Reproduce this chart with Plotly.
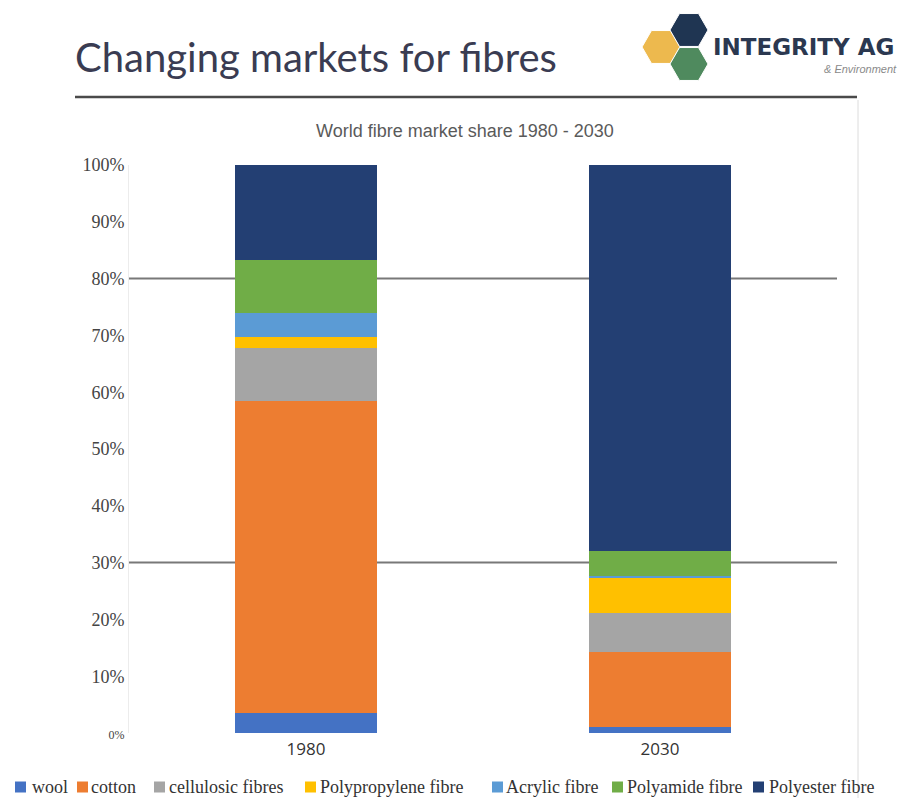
import math
import plotly.graph_objects as go

# ---------------- data ----------------
years = ["1980", "2030"]
fibres = ["wool", "cotton", "cellulosic fibres", "Polypropylene fibre",
          "Acrylic fibre", "Polyamide fibre", "Polyester fibre"]
wool = [0.035, 0.010]
cotton = [0.550, 0.132]
cellulosic = [0.093, 0.070]
polypropylene = [0.019, 0.062]
acrylic = [0.042, 0.003]
polyamide = [0.094, 0.044]
polyester = [0.167, 0.679]
series_values = [wool, cotton, cellulosic, polypropylene, acrylic, polyamide, polyester]
colors = ["#4472C4", "#ED7D31", "#A5A5A5", "#FFC000", "#5B9BD5", "#70AD47", "#233F73"]

ytick_vals = [i / 10 for i in range(11)]
ytick_text = ["<span style='font-size:12px'>0%</span>"] + [f"{i*10}%" for i in range(1, 11)]
ref_lines = [0.8, 0.3]

title_text = "Changing markets for fibres"
subtitle_text = "World fibre market share 1980 - 2030"

# ---------------- layout geometry (pixels) ----------------
W, H = 897, 798
L, R, T, B = 129, 60, 165, 65
PW, PH = W - L - R, H - T - B

# manual legend layout: square left edge, text left edge (pixels)
legend_square_x = [15, 77, 154, 305, 492, 612, 753]
legend_text_x = [30, 89, 167, 318, 504, 625, 767]
legend_y = 787


def px(x):
    return (x - L) / PW


def py(y):
    return (H - B - y) / PH


fig = go.Figure()
for name, vals, col in zip(fibres, series_values, colors):
    fig.add_trace(go.Bar(name=name, x=years, y=vals,
                         marker=dict(color=col, line=dict(width=0))))

shapes = []
# reference lines (behind the bars)
for v in ref_lines:
    shapes.append(dict(type="line", xref="paper", yref="y", x0=0, x1=1, y0=v, y1=v,
                       line=dict(color="#787878", width=2), layer="below"))
# header rule
shapes.append(dict(type="line", xref="paper", yref="paper", x0=px(75), x1=px(857),
                   y0=py(97), y1=py(97), line=dict(color="#4a4a4a", width=2.5)))
# right border of chart frame
shapes.append(dict(type="line", xref="paper", yref="paper", x0=px(858), x1=px(858),
                   y0=py(100), y1=py(798), line=dict(color="#dcdcdc", width=1)))


def hexagon(cx, cy, r, color):
    pts = []
    for k in range(6):
        a = math.radians(60 * k)
        pts.append((px(cx + r * math.cos(a)), py(cy + r * math.sin(a))))
    path = "M " + " L ".join(f"{x:.5f},{y:.5f}" for x, y in pts) + " Z"
    return dict(type="path", xref="paper", yref="paper", path=path,
                fillcolor=color, line=dict(color="white", width=1))


shapes.append(hexagon(661, 47, 19, "#EDB94E"))
shapes.append(hexagon(689, 30, 19, "#1F3552"))
shapes.append(hexagon(689, 64, 19, "#4F8A5E"))

annotations = [
    dict(text=title_text, x=px(73), y=py(57), xref="paper", yref="paper",
         xanchor="left", yanchor="middle", showarrow=False,
         font=dict(family="Lato", size=40, color="#3a3c52")),
    dict(text="<b>INTEGRITY AG</b>", x=px(711), y=py(47), xref="paper", yref="paper",
         xanchor="left", yanchor="middle", showarrow=False,
         font=dict(family="DejaVu Sans", size=23, color="#2b3850")),
    dict(text="<i>&amp; Environment</i>", x=px(899), y=py(69), xref="paper", yref="paper",
         xanchor="right", yanchor="middle", showarrow=False,
         font=dict(family="Liberation Sans Narrow, Liberation Sans", size=11, color="#8a8a8a")),
    dict(text=subtitle_text, x=px(465), y=py(131), xref="paper", yref="paper",
         xanchor="center", yanchor="middle", showarrow=False,
         font=dict(family="Liberation Sans", size=18, color="#5a5a5a")),
]

# manual legend (one row, tight spacing as in the reference)
for name, col, sx, tx in zip(fibres, colors, legend_square_x, legend_text_x):
    shapes.append(dict(type="rect", xref="paper", yref="paper",
                       x0=px(sx), x1=px(sx + 11), y0=py(legend_y - 5.5), y1=py(legend_y + 5.5),
                       fillcolor=col, line=dict(width=0)))
    annotations.append(dict(text=name, x=px(tx), y=py(legend_y), xref="paper", yref="paper",
                            xanchor="left", yanchor="middle", showarrow=False,
                            font=dict(family="Liberation Serif", size=18, color="#333333")))

fig.update_layout(
    width=W, height=H,
    margin=dict(l=L, r=R, t=T, b=B, autoexpand=False),
    barmode="stack", bargap=0.6,
    paper_bgcolor="white", plot_bgcolor="white",
    showlegend=False,
    shapes=shapes, annotations=annotations,
    xaxis=dict(range=[-0.5, 1.5], showgrid=False, showline=False, zeroline=False,
               tickfont=dict(family="Open Sans", size=17, color="#333333"), ticks="",
               ticklabelstandoff=4),
    yaxis=dict(range=[0, 1], tickvals=ytick_vals, ticktext=ytick_text,
               showgrid=False, zeroline=False,
               showline=True, linecolor="#ececec",
               tickfont=dict(family="Liberation Serif", size=18, color="#444444"), ticks=""),
)

fig.write_html("out.html", config={"displayModeBar": False},
               post_script="document.body.style.margin='0';")
